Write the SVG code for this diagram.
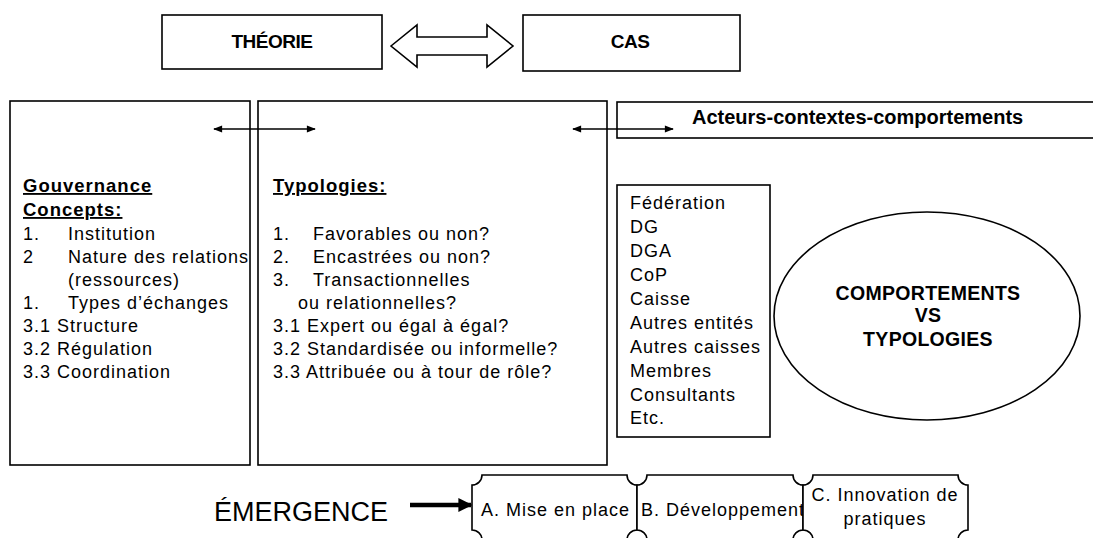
<svg xmlns="http://www.w3.org/2000/svg" width="1093" height="538" viewBox="0 0 1093 538">
  <style>
    .box { fill: #fff; stroke: #000; stroke-width: 1.6; }
    .t { font-family: "Liberation Sans", Arial, sans-serif; font-size: 18px; fill: #000; letter-spacing: 1px; }
    .b { font-family: "Liberation Sans", Arial, sans-serif; font-weight: bold; fill: #000; }
    .h { font-size: 18.5px; text-decoration: underline; letter-spacing: 1px; }
    .link { stroke: #000; stroke-width: 1.6; fill: none; }
    .thick { stroke: #000; stroke-width: 4.5; fill: none; }
  </style>
  <defs>
    <marker id="tip" viewBox="0 0 10 10" refX="9" refY="5" markerWidth="11" markerHeight="9" markerUnits="userSpaceOnUse" orient="auto-start-reverse">
      <path d="M0,1 L10,5 L0,9 Z" fill="#000"/>
    </marker>
    <marker id="bigtip" viewBox="0 0 10 10" refX="9" refY="5" markerWidth="14" markerHeight="14" markerUnits="userSpaceOnUse" orient="auto">
      <path d="M0,0 L10,5 L0,10 Z" fill="#000"/>
    </marker>
  </defs>

  <!-- top row -->
  <g id="theorie">
    <rect class="box" x="162" y="15" width="220" height="54"/>
    <text class="b" x="272" y="48" font-size="19" text-anchor="middle" letter-spacing="-0.5">THÉORIE</text>
  </g>
  <g id="cas">
    <rect class="box" x="523" y="15" width="217" height="56"/>
    <text class="b" x="630" y="48" font-size="19" text-anchor="middle" letter-spacing="-0.5">CAS</text>
  </g>

  <!-- main columns -->
  <g id="gouvernance">
    <rect class="box" x="10" y="101" width="240" height="364"/>
    <text class="b h" x="23" y="192">Gouvernance</text>
    <text class="b h" x="23" y="216">Concepts:</text>
    <text class="t" x="23" y="240">1.</text><text class="t" x="68" y="240">Institution</text>
    <text class="t" x="23" y="263">2</text><text class="t" x="68" y="263">Nature des relations</text>
    <text class="t" x="68" y="286">(ressources)</text>
    <text class="t" x="23" y="309">1.</text><text class="t" x="68" y="309">Types d’échanges</text>
    <text class="t" x="23" y="332">3.1 Structure</text>
    <text class="t" x="23" y="355">3.2 Régulation</text>
    <text class="t" x="23" y="378">3.3 Coordination</text>
  </g>
  <g id="typologies">
    <rect class="box" x="258" y="101" width="349" height="364"/>
    <text class="b h" x="273" y="192">Typologies:</text>
    <text class="t" x="273" y="240">1.</text><text class="t" x="313" y="240">Favorables ou non?</text>
    <text class="t" x="273" y="263">2.</text><text class="t" x="313" y="263">Encastrées ou non?</text>
    <text class="t" x="273" y="286">3.</text><text class="t" x="313" y="286">Transactionnelles</text>
    <text class="t" x="298" y="309">ou relationnelles?</text>
    <text class="t" x="273" y="332">3.1 Expert ou égal à égal?</text>
    <text class="t" x="273" y="355">3.2 Standardisée ou informelle?</text>
    <text class="t" x="273" y="378">3.3 Attribuée ou à tour de rôle?</text>
  </g>
  <g id="acteurs">
    <rect class="box" x="617" y="102" width="490" height="36"/>
    <text class="b" x="692" y="124" font-size="20">Acteurs-contextes-comportements</text>
  </g>
  <g id="entites">
    <rect class="box" x="617" y="185" width="153" height="252"/>
    <text class="t" x="630" y="209">Fédération</text>
    <text class="t" x="630" y="233">DG</text>
    <text class="t" x="630" y="257">DGA</text>
    <text class="t" x="630" y="281">CoP</text>
    <text class="t" x="630" y="305">Caisse</text>
    <text class="t" x="630" y="329">Autres entités</text>
    <text class="t" x="630" y="353">Autres caisses</text>
    <text class="t" x="630" y="377">Membres</text>
    <text class="t" x="630" y="401">Consultants</text>
    <text class="t" x="630" y="424">Etc.</text>
  </g>
  <g id="comportements">
    <ellipse class="box" cx="927" cy="316" rx="153" ry="104"/>
    <text class="b" x="928" y="300" font-size="19.5" text-anchor="middle" letter-spacing="0.3">COMPORTEMENTS</text>
    <text class="b" x="928" y="322" font-size="19.5" text-anchor="middle" letter-spacing="0.3">VS</text>
    <text class="b" x="928" y="346" font-size="19.5" text-anchor="middle" letter-spacing="0.3">TYPOLOGIES</text>
  </g>

  <!-- bottom row -->
  <g id="emergence">
    <text x="214" y="521" font-family="Liberation Sans, Arial, sans-serif" font-size="27">ÉMERGENCE</text>
  </g>
  <g id="phase-a">
    <path class="box" d="M482,475 L627,475 A10,10 0 0 0 637,485 L637,530 A10,10 0 0 0 627,540 L482,540 A10,10 0 0 0 472,530 L472,485 A10,10 0 0 0 482,475 Z"/>
    <text class="t" x="481" y="516" letter-spacing="0.5">A. Mise en place</text>
  </g>
  <g id="phase-b">
    <path class="box" d="M647,475 L793,475 A10,10 0 0 0 803,485 L803,530 A10,10 0 0 0 793,540 L647,540 A10,10 0 0 0 637,530 L637,485 A10,10 0 0 0 647,475 Z"/>
    <text class="t" x="641" y="516" font-size="17.5" letter-spacing="-0.2">B. Développement</text>
  </g>
  <g id="phase-c">
    <path class="box" d="M813,475 L958,475 A10,10 0 0 0 968,485 L968,530 A10,10 0 0 0 958,540 L813,540 A10,10 0 0 0 803,530 L803,485 A10,10 0 0 0 813,475 Z"/>
    <text class="t" x="885" y="501" text-anchor="middle" letter-spacing="0.5">C. Innovation de</text>
    <text class="t" x="885" y="525" text-anchor="middle" letter-spacing="0.5">pratiques</text>
  </g>

  <!-- connectors -->
  <g id="connectors">
    <path class="box" d="M391,46 L417,25 L417,37 L487,37 L487,25 L513,46 L487,67 L487,55 L417,55 L417,67 Z"/>
    <line class="link" x1="214" y1="129" x2="315" y2="129" marker-start="url(#tip)" marker-end="url(#tip)"/>
    <line class="link" x1="573" y1="129" x2="673" y2="129" marker-start="url(#tip)" marker-end="url(#tip)"/>
    <line class="thick" x1="410" y1="505" x2="471" y2="505" marker-end="url(#bigtip)"/>
  </g>
</svg>
